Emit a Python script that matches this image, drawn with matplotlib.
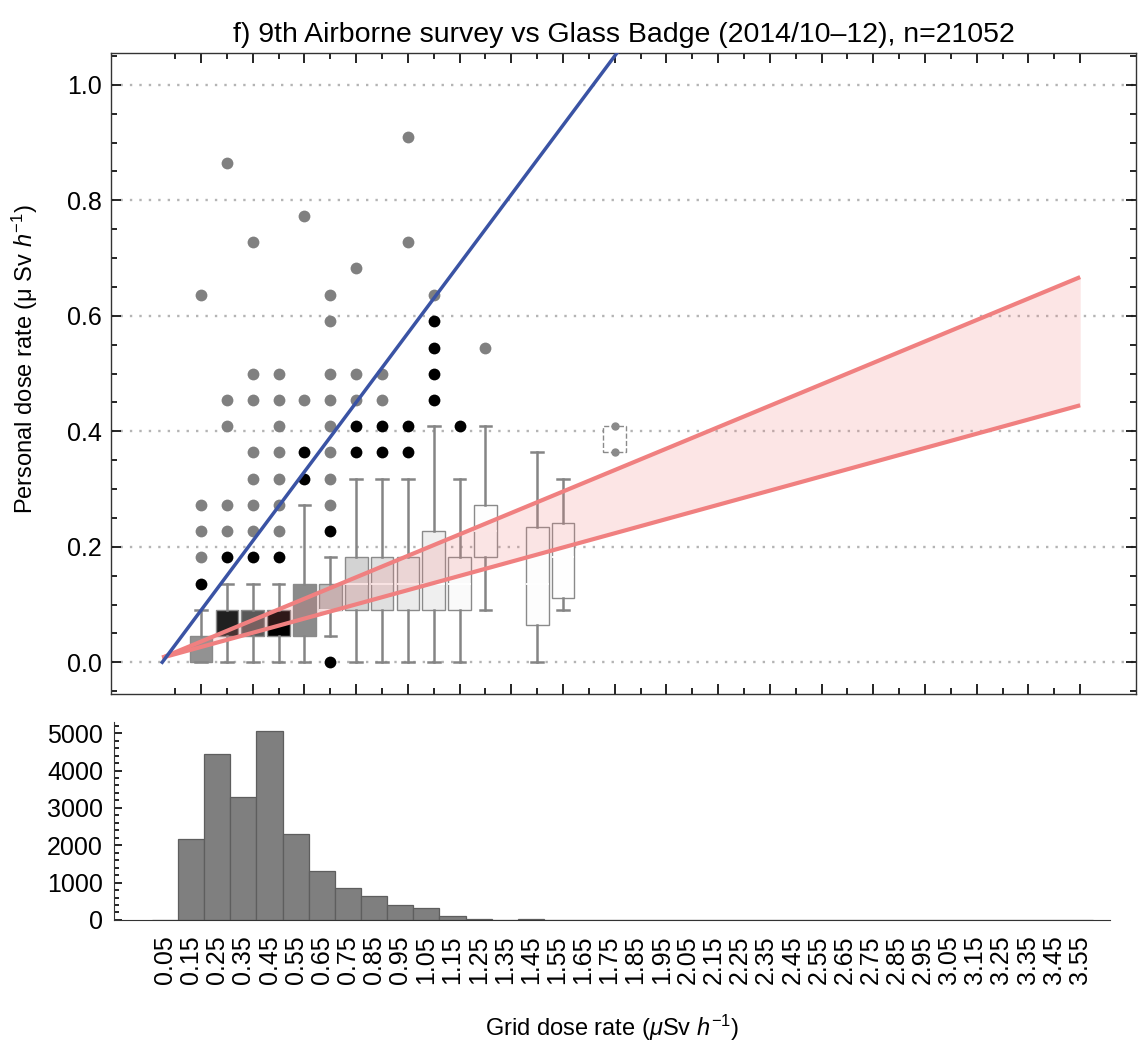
import matplotlib
matplotlib.use("Agg")
import matplotlib.pyplot as plt
from matplotlib.ticker import MultipleLocator, FixedLocator, FormatStrFormatter

plt.rcParams['font.family'] = ['Liberation Sans', 'DejaVu Sans']
plt.rcParams['mathtext.fontset'] = 'custom'
plt.rcParams['mathtext.rm'] = 'Liberation Sans'
plt.rcParams['mathtext.it'] = 'Liberation Sans:italic'

# histogram of grid dose rate bins (uSv/h)
hist_labels = ['0.05', '0.15', '0.25', '0.35', '0.45', '0.55', '0.65', '0.75', '0.85',
               '0.95', '1.05', '1.15', '1.25', '1.35', '1.45', '1.55', '1.65', '1.75',
               '1.85', '1.95', '2.05', '2.15', '2.25', '2.35', '2.45', '2.55', '2.65',
               '2.75', '2.85', '2.95', '3.05', '3.15', '3.25', '3.35', '3.45', '3.55']
hist_counts = [0, 2160, 4430, 3300, 5060, 2300, 1310, 865, 640, 400, 310, 107, 36, 0,
               30, 12, 0, 4, 0, 0, 0, 0, 0, 0, 0, 0, 0, 0, 0, 0, 0, 0, 0, 0, 0, 0]

# box-whisker stats of personal dose rate per bin
box_pos = [0.15, 0.25, 0.35, 0.45, 0.55, 0.65, 0.75, 0.85, 0.95, 1.05, 1.15, 1.25, 1.45, 1.55]
box_q1 = [0.0, 0.045, 0.045, 0.045, 0.045, 0.091, 0.091, 0.091, 0.091, 0.091, 0.091, 0.182, 0.064, 0.111]
box_med = [0.0, 0.045, 0.045, 0.045, 0.091, 0.091, 0.136, 0.136, 0.136, 0.136, 0.136, 0.227, 0.136, 0.182]
box_q3 = [0.045, 0.091, 0.091, 0.091, 0.136, 0.136, 0.182, 0.182, 0.182, 0.227, 0.182, 0.273, 0.234, 0.241]
box_lo = [0.0, 0.0, 0.0, 0.0, 0.0, 0.045, 0.0, 0.0, 0.0, 0.0, 0.0, 0.091, 0.0, 0.091]
box_hi = [0.091, 0.136, 0.136, 0.136, 0.273, 0.182, 0.318, 0.318, 0.318, 0.409, 0.318, 0.409, 0.364, 0.318]
near_out = [[0.136], [0.182], [0.182], [0.182], [0.318, 0.364], [0.0, 0.227],
            [0.364, 0.409], [0.364, 0.409], [0.364, 0.409], [0.455, 0.5, 0.545, 0.591],
            [0.409], [], [], []]
far_out = [[0.182, 0.227, 0.273, 0.636],
           [0.227, 0.273, 0.409, 0.455, 0.864],
           [0.227, 0.273, 0.318, 0.364, 0.455, 0.5, 0.727],
           [0.227, 0.273, 0.318, 0.364, 0.409, 0.455, 0.5],
           [0.455, 0.773],
           [0.273, 0.318, 0.364, 0.409, 0.455, 0.5, 0.591, 0.636],
           [0.455, 0.5, 0.682],
           [0.455, 0.5],
           [0.727, 0.909],
           [0.636],
           [], [0.545], [], []]

# bin with only a few points (dashed box)
sparse_pos = 1.75
sparse_vals = [0.364, 0.409]

# fitted lines
fit_x = [0.0, 3.55]
fit_upper = [0.008, 0.667]
fit_lower = [0.008, 0.445]
ref_x = [0.0, 3.55]
ref_y = [0.0, 2.13]

grid_col = '#b4b4b4'
whisk_col = '#858585'
pink = '#f08080'

fig = plt.figure(figsize=(11.39, 10.46), dpi=100)
ax = fig.add_axes([0.0975, 0.3365, 0.8999, 0.6128])
ax2 = fig.add_axes([0.1001, 0.1205, 0.8744, 0.1893])

# ---- top panel
for g in [0.0, 0.2, 0.4, 0.6, 0.8, 1.0]:
    ax.axhline(g, color=grid_col, lw=1.7, ls=(0, (1, 3)), zorder=0)

cmax = max(hist_counts)
count_of = dict(zip([float(s) for s in hist_labels], hist_counts))
stats = []
for i, p in enumerate(box_pos):
    stats.append(dict(med=box_med[i], q1=box_q1[i], q3=box_q3[i],
                      whislo=box_lo[i], whishi=box_hi[i], fliers=[]))
parts = ax.bxp(stats, positions=box_pos, widths=0.088, capwidths=0.045,
               patch_artist=True, showfliers=False, manage_ticks=False,
               boxprops=dict(edgecolor='#8a8a8a', linewidth=1.0),
               whiskerprops=dict(color=whisk_col, linewidth=1.8),
               capprops=dict(color=whisk_col, linewidth=1.8),
               medianprops=dict(color='white', linewidth=1.3))
for i, p in enumerate(box_pos):
    frac = count_of[p] / cmax
    g = 1 - frac
    parts['boxes'][i].set_facecolor((g, g, g))
    if frac > 0.4:
        parts['medians'][i].set_visible(False)

ax.bxp([dict(med=sparse_vals[0], q1=sparse_vals[0], q3=sparse_vals[1],
             whislo=sparse_vals[0], whishi=sparse_vals[1], fliers=[])],
       positions=[sparse_pos], widths=0.088, patch_artist=True,
       showfliers=False, showcaps=False, manage_ticks=False,
       boxprops=dict(edgecolor='#8a8a8a', facecolor='white', linewidth=1.0,
                     linestyle='--'),
       medianprops=dict(visible=False))
ax.plot([sparse_pos] * 2, sparse_vals, 'o', color='#8a8a8a', ms=5, zorder=3)

for i, p in enumerate(box_pos):
    if near_out[i]:
        ax.plot([p] * len(near_out[i]), near_out[i], 'o', color='black', ms=8.5,
                mec='none', zorder=3)
    if far_out[i]:
        ax.plot([p] * len(far_out[i]), far_out[i], 'o', color='#808080', ms=8.5,
                mec='none', zorder=3)

ax.fill_between(fit_x, fit_lower, fit_upper, color=pink, alpha=0.2, lw=0, zorder=4)
ax.plot(fit_x, fit_upper, color=pink, lw=3, zorder=5, solid_capstyle='butt')
ax.plot(fit_x, fit_lower, color=pink, lw=3, zorder=5, solid_capstyle='butt')
ax.plot(ref_x, ref_y, color='#3a53a4', lw=2.5, zorder=6)

ax.set_xlim(-0.198, 3.766)
ax.set_ylim(-0.055, 1.055)
tick_pos = [float(s) for s in hist_labels]
ax.xaxis.set_major_locator(FixedLocator(tick_pos[1::2]))
ax.xaxis.set_minor_locator(FixedLocator(tick_pos[0::2]))
ax.yaxis.set_major_locator(MultipleLocator(0.2))
ax.yaxis.set_minor_locator(MultipleLocator(0.05))
ax.set_xticklabels([])
ax.tick_params(which='both', direction='in', top=True, right=True, width=1.2)
ax.tick_params(which='major', length=7)
ax.tick_params(which='minor', length=4.5)
ax.tick_params(axis='y', labelright=False, labelsize=18, pad=6.5)
ax.yaxis.set_major_formatter(FormatStrFormatter('%.1f'))
for s in ax.spines.values():
    s.set_linewidth(1.0)
    s.set_color('#333333')
ax.set_ylabel('Personal dose rate (μ Sv $h^{-1}$)', fontsize=17)
ax.yaxis.set_label_coords(-0.069, 0.523)
ax.set_title('f) 9th Airborne survey vs Glass Badge (2014/10\u201212), n=21052',
             fontsize=20.5, pad=8)

# ---- bottom panel (histogram)
ax2.bar(tick_pos, hist_counts, width=0.1, color='#7f7f7f', edgecolor='#5e5e5e',
        linewidth=0.9)
ax2.set_xlim(-0.145, 3.665)
ax2.set_ylim(0, 5300)
ax2.spines['top'].set_visible(False)
ax2.spines['right'].set_visible(False)
for s in ax2.spines.values():
    s.set_color('#333333')
ax2.set_xticks(tick_pos)
ax2.set_xticklabels(hist_labels, rotation=90, fontsize=18)
ax2.tick_params(axis='x', length=0, pad=11)
ax2.yaxis.set_major_locator(MultipleLocator(1000))
ax2.yaxis.set_minor_locator(MultipleLocator(200))
ax2.tick_params(axis='y', which='both', direction='in', width=1.2, labelsize=18, pad=8)
ax2.tick_params(axis='y', which='major', length=6)
ax2.tick_params(axis='y', which='minor', length=3.5)
ax2.set_xlabel('Grid dose rate ($\\mu$Sv $h^{-1}$)', fontsize=17)
ax2.xaxis.set_label_coords(0.5, -0.47)

fig.savefig('out.png', dpi=100)
